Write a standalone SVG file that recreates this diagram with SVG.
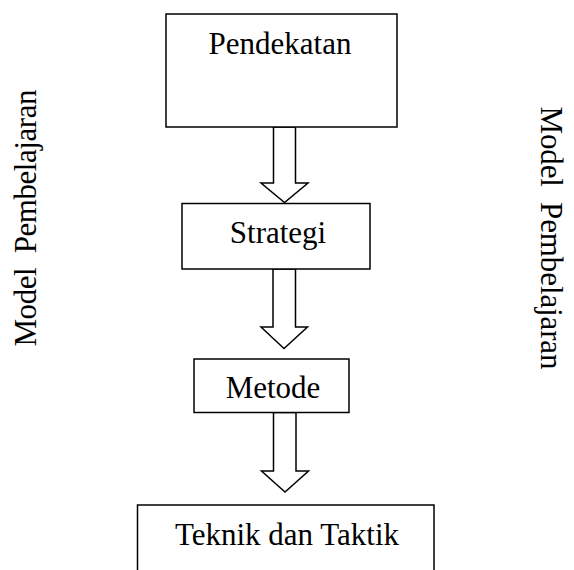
<svg xmlns="http://www.w3.org/2000/svg" width="574" height="570" viewBox="0 0 574 570">
<style>
.box{fill:#fff;stroke:#000;stroke-width:1.5}
.arr{fill:#fff;stroke:#000;stroke-width:1.5;stroke-linejoin:miter}
text{font-family:"Liberation Serif","Times New Roman",serif;font-size:31px;fill:#000}
</style>
<rect width="574" height="570" fill="#fff"/>
<g id="connectors">
<polygon class="arr" points="273.5,127 295.5,127 295.5,183 308,183 284.5,202.5 261,183 273.5,183"/>
<polygon class="arr" points="273,269 295.5,269 295.5,327 307.5,327 284,348.5 261,327 273,327"/>
<polygon class="arr" points="273.5,412.5 296,412.5 296,471 308.5,471 285,492 261.5,471 273.5,471"/>
</g>
<g id="pendekatan">
<rect class="box" x="166" y="14" width="231" height="113"/>
<text x="280" y="54" text-anchor="middle">Pendekatan</text>
</g>
<g id="strategi">
<rect class="box" x="182" y="203.5" width="188" height="65.5"/>
<text x="278" y="243" text-anchor="middle">Strategi</text>
</g>
<g id="metode">
<rect class="box" x="194" y="359" width="155" height="53.5"/>
<text x="273" y="398" text-anchor="middle">Metode</text>
</g>
<g id="teknik">
<rect class="box" x="137.5" y="505" width="296.5" height="80"/>
<text x="287" y="545" text-anchor="middle">Teknik dan Taktik</text>
</g>
<g id="label-left">
<text transform="translate(36,346.5) rotate(-90)" xml:space="preserve" textLength="257" lengthAdjust="spacing">Model  Pembelajaran</text>
</g>
<g id="label-right">
<text transform="translate(540.5,106.5) rotate(90)" xml:space="preserve" textLength="263" lengthAdjust="spacing">Model  Pembelajaran</text>
</g>
</svg>
